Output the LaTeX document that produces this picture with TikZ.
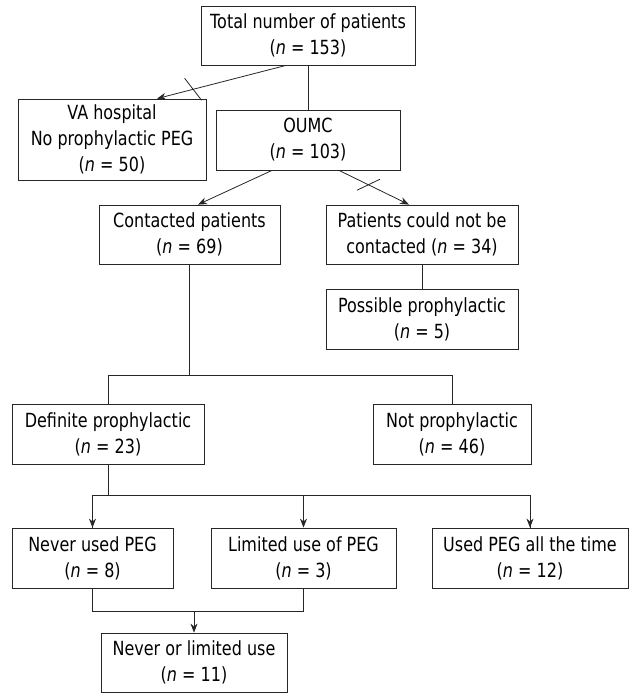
\documentclass[tikz,border=0pt]{standalone}
\usepackage{fontspec}
\setmainfont[FakeStretch=0.82]{DejaVu Sans}
\usetikzlibrary{arrows.meta,calc}
\begin{document}
\begin{tikzpicture}[x=1pt,y=-1pt,
  box/.style={draw=black!85,line width=0.8pt,rectangle,inner sep=0pt,align=center,
    font=\fontsize{19.5}{26}\selectfont},
  conn/.style={draw=black!85,line width=0.8pt},
  arr/.style={conn,-{Stealth[length=9pt,width=7pt]}}]
\useasboundingbox (0,0) rectangle (630,693);
\node[box,minimum width=214pt,minimum height=59pt] (total) at (308,35.5) {Total number of patients\\(\textit{n} = 153)};
\node[box,minimum width=188pt,minimum height=81pt] (va) at (112,139.5) {VA hospital\\No prophylactic PEG\\(\textit{n} = 50)};
\node[box,minimum width=184pt,minimum height=60pt] (oumc) at (308,140) {OUMC\\(\textit{n} = 103)};
\node[box,minimum width=181pt,minimum height=59pt] (contacted) at (189.5,234.5) {Contacted patients\\(\textit{n} = 69)};
\node[box,minimum width=192pt,minimum height=59pt] (notcont) at (422,234.5) {Patients could not be\\contacted (\textit{n} = 34)};
\node[box,minimum width=192pt,minimum height=60pt] (possible) at (422,319) {Possible prophylactic\\(\textit{n} = 5)};
\node[box,minimum width=192pt,minimum height=60pt] (definite) at (108,434) {Definite prophylactic\\(\textit{n} = 23)};
\node[box,minimum width=158pt,minimum height=60pt] (notpro) at (452,434) {Not prophylactic\\(\textit{n} = 46)};
\node[box,minimum width=161pt,minimum height=60pt] (never) at (92.5,558) {Never used PEG\\(\textit{n} = 8)};
\node[box,minimum width=185pt,minimum height=60pt] (limited) at (303.5,558) {Limited use of PEG\\(\textit{n} = 3)};
\node[box,minimum width=196pt,minimum height=60pt] (used) at (530,558) {Used PEG all the time\\(\textit{n} = 12)};
\node[box,minimum width=186pt,minimum height=59pt] (nol) at (194,662.5) {Never or limited use\\(\textit{n} = 11)};

% Total -> VA (excluded)
\draw[arr] ($(total.south)+(-22,0)$) -- ($(va.north)+(45,0)$) coordinate[pos=0.72] (t1);
\draw[conn] ($(t1)+(-8.5,-11)$) -- ($(t1)+(8.5,11)$);
% Total -> OUMC
\draw[conn] (total.south) -- (oumc.north);
% OUMC -> contacted / not contacted
\draw[arr] ($(oumc.south)+(-36,0)$) -- ($(contacted.north)+(8.5,0)$);
\draw[arr] ($(oumc.south)+(31,0)$) -- ($(notcont.north)+(-13,0)$) coordinate[pos=0.42] (t2);
\draw[conn] ($(t2)+(-11.5,5.5)$) -- ($(t2)+(11.5,-5.5)$);
% not contacted -> possible
\draw[conn] (notcont.south) -- (possible.north);
% contacted -> definite / not prophylactic
\coordinate (j1) at ($(contacted.south)+(0,111)$);
\draw[conn] (contacted.south) -- (j1);
\draw[conn] (definite.north) |- (j1) -| (notpro.north);
% definite -> three
\coordinate (j2) at ($(definite.south)+(0,31)$);
\draw[conn] (definite.south) -- (j2);
\draw[conn] (j2) -| (never.north);
\draw[conn] (j2) -| (used.north);
\draw[arr] (never.north |- j2) -- (never.north);
\draw[arr] (limited.north |- j2) -- (limited.north);
\draw[arr] (used.north |- j2) -- (used.north);
% never + limited -> nol
\coordinate (j3) at ($(never.south)+(0,23)$);
\draw[conn] (never.south) -- (j3) -| (limited.south);
\draw[arr] (nol.north |- j3) -- (nol.north);
\end{tikzpicture}
\end{document}
